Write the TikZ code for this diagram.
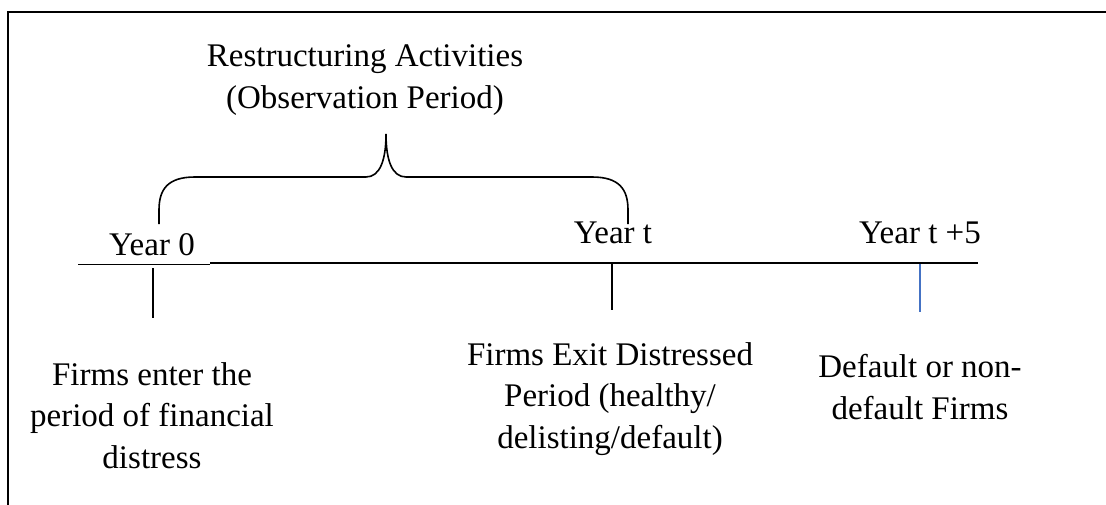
\documentclass[tikz,border=0pt]{standalone}
\usepackage{fontspec}
\setmainfont{Liberation Serif}
\begin{document}
\begin{tikzpicture}[x=1pt,y=-1pt,
  lbl/.style={inner sep=0pt,align=center,font=\fontsize{33}{41.5}\selectfont},
  tick/.style={line width=1.5pt,draw=black},
  bluetick/.style={line width=1.5pt,draw={rgb,255:red,68;green,114;blue,196}},
  axis/.style={line width=2pt},
  thinaxis/.style={line width=1.2pt}]
\useasboundingbox (0,0) rectangle (1106,504);
\clip (0,0) rectangle (1106,504);
\draw[line width=2.2pt] (8,12) rectangle (1130,530);
% title
\node[lbl,anchor=base] (title) at (365,108) {Restructuring Activities\\(Observation Period)};
% brace
\draw[line width=1.6pt] (159,224) -- (159,210) .. controls (159,189) and (168,177) .. (195,177)
  -- (366,177) .. controls (380,177) and (386,160) .. (386,134)
  .. controls (386,160) and (392,177) .. (406,177) -- (592,177)
  .. controls (619,177) and (628,189) .. (628,210) -- (628,224);
% year labels
\node[lbl,anchor=base] (y0) at (152,255) {Year 0};
\node[lbl,anchor=base] (yt) at (613,243) {Year t};
\node[lbl,anchor=base] (yt5) at (920,243) {Year t +5};
% axis
\coordinate (a0) at (78,264.5);
\coordinate (a1) at (210,264.5);
\coordinate (a2) at (210,263);
\coordinate (a3) at (978,263);
\draw[thinaxis] (a0) -- (a1);
\draw[axis] (a2) -- (a3);
% ticks
\coordinate (t0a) at (153,268); \coordinate (t0b) at (153,318);
\coordinate (t1a) at (612,264); \coordinate (t1b) at (612,310);
\coordinate (t2a) at (920,264); \coordinate (t2b) at (920,312);
\draw[tick] (t0a) -- (t0b);
\draw[tick] (t1a) -- (t1b);
\draw[bluetick] (t2a) -- (t2b);
% descriptions
\node[lbl,anchor=base] (d0) at (152,468) {Firms enter the\\period of financial\\distress};
\node[lbl,anchor=base] (d1) at (610,448) {Firms Exit Distressed\\Period (healthy/\\delisting/default)};
\node[lbl,anchor=base] (d2) at (920,419) {Default or non-\\default Firms};
\end{tikzpicture}
\end{document}
